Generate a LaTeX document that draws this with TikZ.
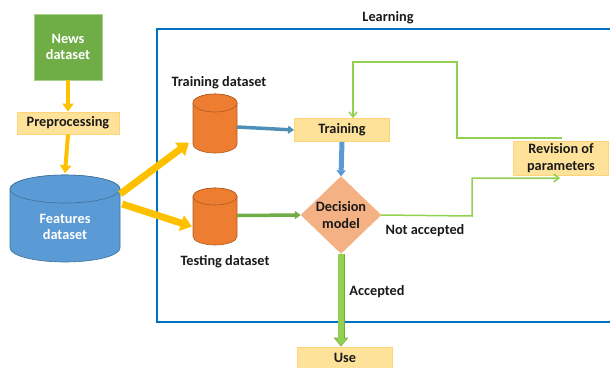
\documentclass[tikz,border=0pt]{standalone}
\usepackage{fontspec}
\setmainfont{Carlito}
\usetikzlibrary{shapes.geometric,arrows.meta,calc}
\definecolor{gfill}{HTML}{70AD47}
\definecolor{gline}{HTML}{A9D18E}
\definecolor{yarrow}{HTML}{FFC000}
\definecolor{bfill}{HTML}{FFE29A}
\definecolor{bline}{HTML}{FFD37A}
\definecolor{cblue}{HTML}{5B9BD5}
\definecolor{cblueline}{HTML}{41719C}
\definecolor{corange}{HTML}{ED7D31}
\definecolor{corangeline}{HTML}{AE5A21}
\definecolor{dfill}{HTML}{F4B183}
\definecolor{lgreen}{HTML}{92D050}
\definecolor{learnblue}{HTML}{0070C0}
\definecolor{steel}{HTML}{4E8FB8}
\definecolor{txt}{HTML}{1A1A1A}
% cylinder body: #1 cx, #2 top-ellipse cy, #3 bottom-ellipse cy, #4 half width, #5 ry, #6 fill, #7 line
\newcommand\mycyl[7]{%
  \filldraw[fill=#6, draw=#7, line width=0.6pt]
    (#1-#4,#2) -- (#1-#4,#3) arc[start angle=180, end angle=0, x radius=#4, y radius=#5]
    -- (#1+#4,#2) arc[start angle=0, end angle=-180, x radius=#4, y radius=#5] -- cycle;
  \filldraw[fill=#6, draw=#7, line width=0.6pt] (#1,#2) ellipse[x radius=#4, y radius=#5];
}
\tikzset{
  gbox/.style={rectangle, fill=gfill, draw=gline, line width=0.8pt, text=white, align=center, minimum width=68pt, minimum height=66pt, inner sep=0pt},
  ybox/.style={rectangle, fill=bfill, draw=bline, line width=0.8pt, align=center, inner sep=0pt},
  anchorbox/.style={rectangle, draw=none, inner sep=0pt},
  dmd/.style={diamond, fill=dfill, draw=dfill, align=center, inner sep=0pt, minimum width=80pt, minimum height=70pt},
  yarr/.style={draw=yarrow, line width=4pt, -{Triangle[width=11pt,length=8pt]}},
  yarrbig/.style={draw=yarrow, line width=7pt, -{Triangle[width=16pt,length=11pt]}},
  lbl/.style={inner sep=0pt, align=center},
}
\begin{document}
\begin{tikzpicture}[x=1pt,y=-1pt, font=\bfseries\fontsize{14.3}{16.5}\selectfont, text=txt]
\useasboundingbox (0,0) rectangle (610,367);
% learning frame
\draw[learnblue, line width=1.3pt] (615,29) -- (157,29) -- (157,322) -- (615,322);
\node[lbl] (learn) at (388,18) {Learning};
% cylinders
\mycyl{65}{189}{248}{55}{14}{cblue}{cblueline}
\mycyl{215}{103}{144}{22}{9}{corange}{corangeline}
\mycyl{215}{196.5}{236.5}{22}{8.5}{corange}{corangeline}
\node[anchorbox, minimum width=110pt, minimum height=89pt] (feat) at (65,218) {};
\node[anchorbox, minimum width=44pt, minimum height=59pt] (trcyl) at (215,124) {};
\node[anchorbox, minimum width=44pt, minimum height=57pt] (tecyl) at (215,216.5) {};
\node[lbl, text=white] (feattxt) at (65,227) {Features\\dataset};
% nodes
\node[gbox] (news) at (68,47) {News\\dataset};
\node[ybox, minimum width=102pt, minimum height=22pt] (pre) at (68,123) {Preprocessing};
\node[lbl] (trlbl) at (219,83) {Training dataset};
\node[lbl] (telbl) at (225,262) {Testing dataset};
\node[ybox, minimum width=95pt, minimum height=23pt] (train) at (342,130) {Training};
\node[dmd] (dec) at (341,215) {Decision\\model};
\node[ybox, minimum width=95pt, minimum height=34pt] (rev) at (561,158) {Revision of\\parameters};
\node[ybox, minimum width=95pt, minimum height=22pt] (use) at (345,358) {Use};
\node[lbl] (nacc) at (425,231) {Not accepted};
\node[lbl] (acc) at (377,292) {Accepted};
% coordinates
\coordinate (fb0) at (562,138);
\coordinate (fb1) at (457,62);
\coordinate (fb2) at (353,62);
\coordinate (rv) at (560,178);
\coordinate (nk) at (472,216);
% connectors
\draw[yarr] (news.south) -- (pre.north);
\draw[yarr] (pre.south) -- (feat.north);
\draw[yarrbig] ($(feat.east)+(0,-24)$) -- ($(trcyl.south west)+(-4,-11)$);
\draw[yarrbig] ($(feat.east)+(2,-14)$) -- ($(tecyl.west)+(-1,10)$);
\draw[steel, line width=3.5pt, -{Triangle[width=8pt,length=6pt]}] ($(trcyl.east)+(0,3)$) -- (train.west);
\draw[cblue, line width=5pt, -{Triangle[width=9pt,length=6pt]}] (train.south) -- (dec.north);
\draw[gfill, line width=3.5pt, -{Triangle[width=8pt,length=6pt]}] ($(tecyl.east)+(0,-1)$) -- (dec.west);
\draw[lgreen, line width=1.5pt, -{Straight Barb[length=5pt,width=8pt]}] (dec.east) -- (nk) |- (rv);
\draw[lgreen, line width=1.5pt, -{Straight Barb[length=5pt,width=8pt]}] (fb0) -| (fb1) -- (fb2) -- (fb2 |- train.north);
\draw[lgreen!80!black, line width=7pt, -{Triangle[width=14pt,length=9pt]}] (dec.south) -- (dec.south |- use.north);
\draw[lgreen, line width=5.5pt, shorten >=1.2pt, -{Triangle[width=11pt,length=7pt]}] (dec.south) -- (dec.south |- use.north);
\end{tikzpicture}
\end{document}
